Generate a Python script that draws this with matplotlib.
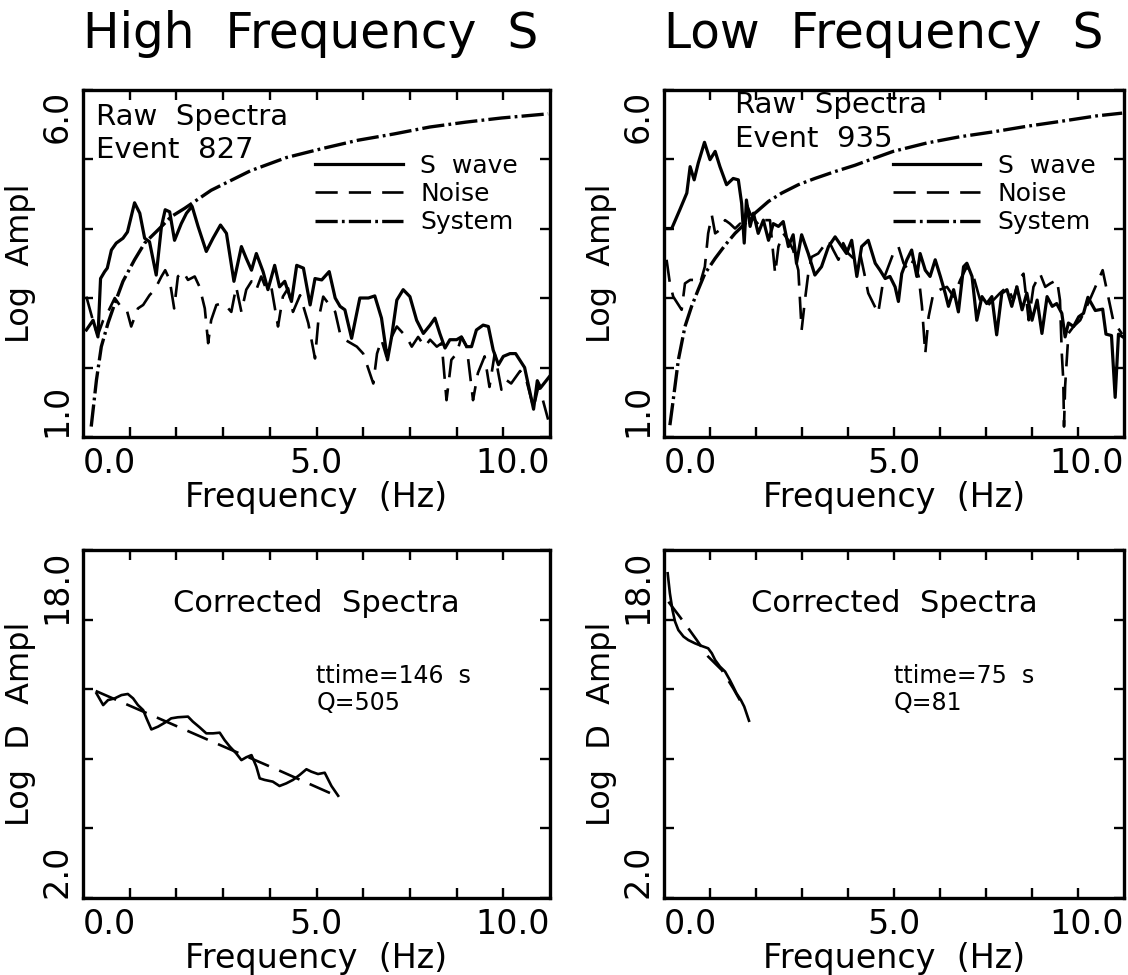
import numpy as np
import matplotlib.pyplot as plt
from matplotlib.transforms import ScaledTranslation

plt.rcParams['font.family'] = ['DejaVu Sans']
plt.rcParams['lines.scale_dashes'] = False

# ---- raw spectra, event 827 (high frequency S) ----
hf_swave = [(-1.16, 2.54), (-0.98, 2.68), (-0.85, 2.44), (-0.78, 3.28), (-0.67, 3.38), (-0.60, 3.43),
            (-0.49, 3.69), (-0.36, 3.79), (-0.18, 3.86), (-0.06, 3.95), (0.13, 4.37), (0.27, 4.22),
            (0.40, 3.86), (0.53, 3.81), (0.71, 3.33), (0.85, 4.03), (0.95, 4.27), (1.07, 4.24),
            (1.20, 3.83), (1.38, 4.07), (1.52, 4.22), (1.67, 4.32), (1.83, 4.03), (2.05, 3.67),
            (2.23, 3.86), (2.43, 4.05), (2.59, 3.93), (2.79, 3.24), (2.99, 3.74), (3.12, 3.57),
            (3.26, 3.40), (3.39, 3.64), (3.57, 3.38), (3.70, 3.12), (3.88, 3.47), (4.01, 3.16),
            (4.15, 3.24), (4.33, 2.95), (4.47, 3.47), (4.65, 3.43), (4.83, 2.90), (4.96, 3.28),
            (5.14, 3.26), (5.34, 3.38), (5.50, 3.00), (5.63, 2.88), (5.76, 2.83), (5.94, 2.42),
            (6.16, 3.00), (6.39, 3.00), (6.56, 3.03), (6.74, 2.71), (6.90, 2.11), (7.01, 2.44),
            (7.15, 2.97), (7.32, 3.12), (7.50, 3.02), (7.68, 2.68), (7.86, 2.49), (8.04, 2.61),
            (8.17, 2.71), (8.30, 2.49), (8.44, 2.28), (8.57, 2.40), (8.75, 2.40), (8.88, 2.44),
            (9.02, 2.30), (9.15, 2.30), (9.28, 2.54), (9.46, 2.61), (9.60, 2.59), (9.73, 2.25),
            (9.87, 2.04), (10.00, 2.16), (10.18, 2.20), (10.33, 2.20), (10.57, 2.00), (10.81, 1.40),
            (10.91, 1.81), (11.00, 1.71), (11.25, 1.88)]

hf_noise = [(-1.16, 3.02), (-0.94, 2.59), (-0.85, 2.47), (-0.71, 2.68), (-0.58, 2.80), (-0.40, 3.00),
            (-0.27, 2.90), (-0.09, 2.85), (0.04, 2.59), (0.22, 2.85), (0.36, 2.90), (0.53, 3.04),
            (0.67, 3.12), (0.85, 3.31), (0.95, 3.40), (1.07, 3.26), (1.19, 2.85), (1.29, 3.31),
            (1.43, 3.38), (1.56, 3.26), (1.74, 3.31), (1.87, 3.16), (2.01, 2.85), (2.10, 2.35),
            (2.18, 2.68), (2.32, 2.90), (2.45, 2.92), (2.59, 2.88), (2.72, 2.80), (2.85, 3.16),
            (2.99, 2.80), (3.12, 3.12), (3.26, 3.24), (3.39, 3.12), (3.52, 3.31), (3.66, 3.12),
            (3.79, 3.16), (3.97, 2.59), (4.10, 3.02), (4.24, 3.14), (4.37, 2.80), (4.56, 3.04),
            (4.78, 2.64), (4.96, 2.13), (5.05, 2.68), (5.18, 3.02), (5.32, 2.92), (5.50, 2.80),
            (5.63, 2.49), (5.76, 2.40), (6.08, 2.30), (6.25, 2.20), (6.52, 1.77), (6.62, 2.20),
            (6.74, 2.40), (6.87, 2.16), (7.01, 2.44), (7.15, 2.59), (7.32, 2.49), (7.41, 2.44),
            (7.55, 2.30), (7.72, 2.44), (7.90, 2.30), (8.04, 2.40), (8.22, 2.30), (8.35, 2.35),
            (8.48, 1.53), (8.61, 2.11), (8.75, 2.20), (8.88, 2.44), (9.02, 2.30), (9.19, 1.53),
            (9.32, 1.92), (9.50, 2.16), (9.63, 1.72), (9.77, 2.20), (9.95, 1.68), (10.08, 1.82),
            (10.21, 1.77), (10.45, 1.95), (10.62, 1.81), (10.81, 1.42), (10.95, 1.75), (11.20, 1.25)]

hf_system = [(-1.03, 1.15), (-0.89, 1.82), (-0.76, 2.30), (-0.58, 2.64), (-0.40, 2.92), (-0.18, 3.24),
             (0.13, 3.55), (0.40, 3.79), (0.76, 3.98), (1.11, 4.17), (1.47, 4.29), (2.18, 4.55),
             (3.23, 4.83), (4.19, 5.02), (5.15, 5.15), (6.11, 5.27), (7.07, 5.36), (8.03, 5.46),
             (8.99, 5.53), (9.95, 5.59), (11.20, 5.65)]

# ---- raw spectra, event 935 (low frequency S) ----
lf_swave = [(-1.22, 4.00), (-1.04, 4.00), (-0.82, 4.27), (-0.63, 4.51), (-0.54, 4.89), (-0.43, 4.70),
            (-0.32, 4.94), (-0.15, 5.24), (0.00, 4.99), (0.14, 5.11), (0.27, 4.89), (0.45, 4.63),
            (0.63, 4.72), (0.77, 4.70), (0.86, 4.36), (0.93, 3.79), (0.99, 4.41), (1.09, 4.03),
            (1.18, 4.22), (1.31, 3.93), (1.45, 4.12), (1.59, 3.83), (1.72, 4.07), (1.86, 4.03),
            (1.99, 4.10), (2.13, 3.74), (2.26, 3.91), (2.35, 3.50), (2.49, 3.91), (2.67, 3.64),
            (2.85, 3.33), (3.03, 3.45), (3.22, 3.74), (3.40, 3.88), (3.58, 3.74), (3.71, 3.64),
            (3.85, 3.83), (3.99, 3.31), (4.12, 3.74), (4.30, 3.83), (4.49, 3.50), (4.62, 3.40),
            (4.76, 3.28), (4.89, 3.31), (5.03, 3.16), (5.12, 2.95), (5.21, 3.35), (5.35, 3.55),
            (5.48, 3.69), (5.62, 3.31), (5.71, 3.64), (5.85, 3.40), (5.98, 3.31), (6.12, 3.55),
            (6.26, 3.31), (6.39, 3.07), (6.48, 2.88), (6.62, 3.12), (6.75, 2.80), (6.89, 3.45),
            (6.98, 3.50), (7.12, 3.31), (7.25, 2.68), (7.39, 3.02), (7.52, 2.92), (7.66, 3.02),
            (7.79, 2.47), (7.93, 3.07), (8.07, 3.12), (8.20, 2.88), (8.34, 3.16), (8.48, 2.83),
            (8.61, 3.07), (8.75, 2.68), (8.89, 2.97), (9.02, 2.49), (9.16, 3.02), (9.30, 2.88),
            (9.42, 2.92), (9.56, 2.78), (9.65, 2.44), (9.74, 2.64), (9.88, 2.59), (10.02, 2.73),
            (10.15, 2.78), (10.27, 3.01), (10.47, 2.82), (10.67, 2.84), (10.76, 2.48), (10.91, 2.46),
            (11.01, 1.57), (11.10, 2.48), (11.25, 2.43)]

lf_noise = [(-1.18, 3.55), (-1.09, 3.21), (-1.00, 3.02), (-0.77, 2.83), (-0.68, 3.21), (-0.54, 3.26),
            (-0.41, 3.26), (-0.27, 3.21), (-0.14, 3.45), (-0.05, 3.93), (0.05, 4.19), (0.14, 3.93),
            (0.27, 3.98), (0.41, 4.12), (0.54, 4.07), (0.68, 4.00), (0.82, 4.07), (0.93, 3.91),
            (0.99, 4.36), (1.09, 4.22), (1.22, 4.12), (1.36, 4.03), (1.50, 4.12), (1.63, 4.12),
            (1.77, 3.35), (1.86, 3.74), (1.99, 3.93), (2.13, 3.83), (2.26, 3.69), (2.40, 3.40),
            (2.49, 2.54), (2.58, 2.97), (2.67, 3.35), (2.76, 3.59), (2.94, 3.64), (3.08, 3.74),
            (3.22, 3.83), (3.35, 3.69), (3.49, 3.55), (3.62, 3.79), (3.76, 3.64), (3.94, 3.55),
            (4.08, 3.64), (4.21, 3.31), (4.30, 3.07), (4.57, 2.78), (4.71, 3.26), (4.98, 3.64),
            (5.12, 3.74), (5.26, 3.50), (5.39, 3.40), (5.53, 3.55), (5.67, 3.31), (5.76, 2.88),
            (5.85, 2.20), (5.94, 2.73), (6.07, 3.07), (6.25, 3.12), (6.44, 3.16), (6.62, 3.02),
            (6.80, 3.26), (6.98, 3.45), (7.16, 3.31), (7.34, 2.97), (7.52, 2.88), (7.70, 2.97),
            (7.88, 3.07), (8.07, 3.16), (8.25, 2.97), (8.38, 3.26), (8.52, 3.35), (8.66, 2.68),
            (8.79, 3.16), (8.97, 3.35), (9.11, 3.16), (9.25, 3.21), (9.43, 3.26), (9.51, 2.97),
            (9.56, 2.20), (9.60, 1.82), (9.62, 1.15), (9.65, 1.73), (9.74, 2.49), (9.88, 2.59),
            (10.06, 2.68), (10.30, 2.95), (10.67, 3.40), (10.96, 2.67), (11.20, 2.48)]

lf_system = [(-1.09, 1.17), (-1.00, 1.53), (-0.86, 2.11), (-0.68, 2.59), (-0.50, 2.88), (-0.32, 3.12),
             (-0.14, 3.35), (0.14, 3.57), (0.41, 3.76), (0.68, 3.93), (0.95, 4.07), (1.22, 4.22),
             (1.59, 4.39), (1.95, 4.51), (2.40, 4.63), (2.85, 4.72), (3.40, 4.82), (3.94, 4.91),
             (4.35, 4.99), (4.98, 5.11), (5.89, 5.23), (6.79, 5.32), (7.69, 5.39), (8.60, 5.47),
             (9.51, 5.54), (10.50, 5.62), (11.20, 5.66)]

# ---- corrected spectra ----
hf_corr = [(-0.89, 11.41), (-0.71, 10.87), (-0.58, 11.10), (-0.40, 11.18), (-0.22, 11.33), (-0.05, 11.38),
           (0.09, 11.18), (0.22, 10.87), (0.36, 10.64), (0.45, 10.26), (0.58, 9.75), (0.76, 9.88),
           (0.94, 10.06), (1.11, 10.26), (1.29, 10.31), (1.56, 10.34), (1.69, 10.11), (1.87, 9.85),
           (2.05, 9.57), (2.23, 9.57), (2.41, 9.60), (2.54, 9.26), (2.68, 8.96), (2.85, 8.65),
           (2.99, 8.34), (3.12, 8.47), (3.26, 8.57), (3.39, 8.04), (3.48, 7.50), (3.61, 7.43),
           (3.83, 7.35), (4.01, 7.15), (4.19, 7.27), (4.37, 7.43), (4.55, 7.66), (4.73, 7.92),
           (4.86, 7.81), (5.04, 7.70), (5.22, 7.76), (5.40, 7.15), (5.58, 6.70)]
hf_fit = [(-0.91, 11.52), (0.35, 10.58), (2.18, 9.21), (3.95, 7.90), (5.58, 6.66)]

lf_corr = [(-1.15, 16.93), (-1.09, 16.01), (-1.02, 15.24), (-0.95, 14.71), (-0.86, 14.32), (-0.72, 14.02),
           (-0.59, 13.86), (-0.41, 13.71), (-0.23, 13.59), (-0.05, 13.48), (0.05, 13.25), (0.14, 12.94),
           (0.27, 12.64), (0.41, 12.41), (0.54, 12.02), (0.63, 11.72), (0.72, 11.41), (0.84, 11.10),
           (0.93, 10.80), (1.06, 10.15)]
lf_fit = [(-1.13, 15.62), (-0.82, 14.93), (-0.59, 14.40), (-0.36, 13.86), (-0.05, 13.10),
          (0.32, 12.48), (0.63, 11.64), (0.86, 10.95)]

titles = ['High  Frequency  S', 'Low  Frequency  S']
events = ['Event  827', 'Event  935']
ttimes = ['ttime=146  s', 'ttime=75  s']
qvals = ['Q=505', 'Q=81']

W, H = 1128, 975
NOISE = (0, (16, 8))
SYSTEM = (0, (16, 3, 2, 3))


def px_axes(fig, left, top, right, bottom):
    return fig.add_axes([left / W, 1 - bottom / H, (right - left) / W, (bottom - top) / H])


def style_axes(ax, ymin, ymax, ylabel):
    ax.set_xlim(-1.25, 11.25)
    ax.set_ylim(ymin, ymax)
    for sp in ax.spines.values():
        sp.set_linewidth(2.4)
    xt = np.arange(0, 10.01, 1.25)
    ax.set_xticks(xt, ['0.0', '', '', '', '5.0', '', '', '', '10.0'])
    yt = np.linspace(ymin, ymax, 6)
    ax.set_yticks(yt, [f'{ymin:.1f}', '', '', '', '', f'{ymax:.1f}'])
    ax.tick_params(direction='in', top=True, right=True, length=7, width=1.7,
                   labelsize=24, pad=7)
    ax.tick_params(axis='y', labelrotation=90)

    fig = ax.figure
    step = ax.get_position().width * fig.get_figwidth() / 10
    xl = ax.get_xticklabels()
    xl[0].set_ha('left')
    xl[0].set_transform(xl[0].get_transform() + ScaledTranslation(-step, 0, fig.dpi_scale_trans))
    xl[-1].set_ha('right')
    xl[-1].set_transform(xl[-1].get_transform() + ScaledTranslation(step, 0, fig.dpi_scale_trans))
    yl = ax.get_yticklabels()
    yl[0].set_va('bottom')
    yl[-1].set_va('top')

    ax.set_xlabel('Frequency  (Hz)', fontsize=24, labelpad=1)
    ax.set_ylabel(ylabel, fontsize=23, labelpad=3)


def xy(pts):
    a = np.array(pts)
    return a[:, 0], a[:, 1]


fig = plt.figure(figsize=(W / 100, H / 100), dpi=100)

raw_axes = [px_axes(fig, 83, 89.5, 550, 437), px_axes(fig, 664, 89.5, 1124, 437)]
cor_axes = [px_axes(fig, 83, 550, 550, 898), px_axes(fig, 664, 550, 1124, 898)]

raw_data = [(hf_swave, hf_noise, hf_system), (lf_swave, lf_noise, lf_system)]
cor_data = [(hf_corr, hf_fit), (lf_corr, lf_fit)]
text_pos = [(-0.90, 5.49, 5.01), (0.68, 5.66, 5.17)]

for i, ax in enumerate(raw_axes):
    sw, nz, sy = raw_data[i]
    ax.plot(*xy(sw), color='black', lw=2.3, label='S  wave')
    ax.plot(*xy(nz), color='black', lw=1.9, linestyle=NOISE, label='Noise')
    ax.plot(*xy(sy), color='black', lw=2.4, linestyle=SYSTEM, label='System')
    style_axes(ax, 1.0, 6.0, 'Log  Ampl')
    tx, y1, y2 = text_pos[i]
    ax.text(tx, y1, 'Raw  Spectra', fontsize=21, va='baseline')
    ax.text(tx, y2, events[i], fontsize=21, va='baseline')
    ax.legend(loc='upper left', bbox_to_anchor=(0.497, 0.815), frameon=False, fontsize=18,
              handlelength=3.5, handletextpad=0.7, labelspacing=0.17,
              borderpad=0, borderaxespad=0)
    fig.text(ax.get_position().x0, 1 - 48 / H, titles[i], fontsize=35, va='baseline')

for i, ax in enumerate(cor_axes):
    cr, ft = cor_data[i]
    ax.plot(*xy(cr), color='black', lw=1.9)
    ax.plot(*xy(ft), color='black', lw=1.9, linestyle=NOISE)
    style_axes(ax, 2.0, 18.0, 'Log  D  Ampl')
    ax.text(5.0, 15.15, 'Corrected  Spectra', fontsize=22, ha='center', va='baseline')
    ax.text(5.0, 11.89, ttimes[i], fontsize=17, va='baseline')
    ax.text(5.0, 10.64, qvals[i], fontsize=17, va='baseline')

fig.savefig('out.png', dpi=100)
